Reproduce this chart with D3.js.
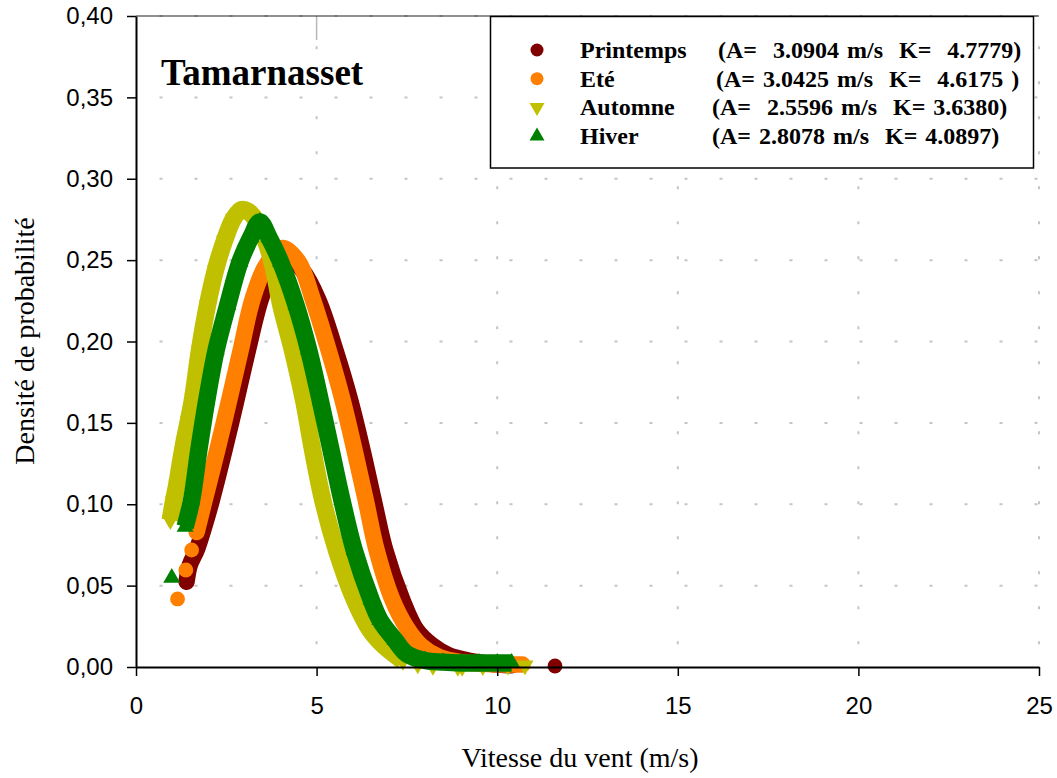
<!DOCTYPE html>
<html>
<head>
<meta charset="utf-8">
<script src="https://cdn.jsdelivr.net/npm/d3@7"></script>
<style>
  body { margin: 0; background: #fff; }
  svg { display: block; }
</style>
</head>
<body>
<svg id="chart" width="1057" height="778"></svg>
<script>
// Axis ticks
const xTicks = [0, 5, 10, 15, 20, 25];
const yTicks = [0, 0.05, 0.10, 0.15, 0.20, 0.25, 0.30, 0.35, 0.40];

// Seasons and their fitted Weibull parameters (legend)
const seasons = ["Printemps", "Eté", "Automne", "Hiver"];
const weibullParams = [
  "(A=  3.0904 m/s  K=  4.7779)",
  "(A= 3.0425 m/s  K=  4.6175 )",
  "(A=  2.5596 m/s  K= 3.6380)",
  "(A= 2.8078 m/s  K= 4.0897)"
];
const colors = ["#800000", "#ff8000", "#c0c000", "#008000"];

// Probability density vs wind speed [v (m/s), f(v)] — dense runs of points
const printemps = [
  [1.40, 0.0524], [1.49, 0.0627], [1.68, 0.0719], [1.90, 0.087], [2.10, 0.1026],
  [2.45, 0.1333], [2.78, 0.164], [3.10, 0.1948], [3.45, 0.2255], [3.80, 0.245],
  [4.20, 0.252], [4.60, 0.244], [5.05, 0.2255], [5.52, 0.1948], [5.93, 0.164],
  [6.27, 0.1333], [6.58, 0.1026], [6.90, 0.0719], [7.38, 0.041], [7.77, 0.0227],
  [8.19, 0.0135], [8.65, 0.0074], [9.20, 0.004], [9.80, 0.002], [10.40, 0.001]
];
const printempsIsolated = [[11.6, 0.0006]];

const ete = [
  [1.68, 0.083], [1.90, 0.1026], [2.25, 0.1333], [2.58, 0.164], [2.90, 0.1948],
  [3.22, 0.2255], [3.58, 0.246], [4.05, 0.2575], [4.50, 0.249], [4.90, 0.2255],
  [5.33, 0.1948], [5.72, 0.164], [6.05, 0.1333], [6.36, 0.1026], [6.66, 0.0719],
  [7.10, 0.0412], [7.50, 0.024], [7.90, 0.013], [8.40, 0.006], [9.00, 0.003],
  [9.60, 0.002], [10.20, 0.0015], [10.70, 0.0015]
];
const eteIsolated = [[1.15, 0.0418], [1.38, 0.0596], [1.54, 0.0719]];

const automne = [
  [0.95, 0.0902], [1.04, 0.102], [1.13, 0.112], [1.22, 0.124], [1.33, 0.138],
  [1.45, 0.151], [1.57, 0.165], [1.76, 0.1948], [1.98, 0.2224], [2.20, 0.244],
  [2.45, 0.262], [2.70, 0.2755], [2.92, 0.281], [3.10, 0.280], [3.35, 0.2735],
  [3.60, 0.261], [3.80, 0.246], [4.01, 0.2224], [4.33, 0.1948], [4.64, 0.164],
  [4.89, 0.1333], [5.17, 0.1026], [5.55, 0.0719], [6.05, 0.0412], [6.48, 0.0227],
  [6.84, 0.0135], [7.17, 0.0074], [7.39, 0.0037]
];
const automneIsolated = [
  [7.80, 0.0015], [8.22, 0.0006], [8.91, 0.0], [9.03, 0.0], [9.60, 0.0005],
  [10.30, 0.0008], [10.77, 0.001]
];

const hiver = [
  [1.36, 0.0861], [1.54, 0.1026], [1.74, 0.1333], [1.96, 0.164], [2.22, 0.1948],
  [2.54, 0.2224], [2.88, 0.249], [3.18, 0.264], [3.43, 0.2735], [3.68, 0.264],
  [4.00, 0.249], [4.43, 0.2224], [4.78, 0.1948], [5.10, 0.164], [5.40, 0.1333],
  [5.70, 0.1026], [6.04, 0.0719], [6.51, 0.0412], [6.75, 0.029], [7.17, 0.0166],
  [7.50, 0.008], [8.00, 0.004], [8.50, 0.003], [9.00, 0.0025], [9.50, 0.0025],
  [10.00, 0.0025], [10.40, 0.0025]
];
const hiverIsolated = [[0.99, 0.0548]];

const seriesRuns = [printemps, ete, automne, hiver];
const seriesIsolated = [printempsIsolated, eteIsolated, automneIsolated, hiverIsolated];
const markerKinds = ["circle", "circle", "down", "up"];

// ---- layout ----
const svg = d3.select("#chart");
const plot = { left: 136, right: 1039, top: 16, bottom: 667 };

const x = d3.scaleLinear().domain([0, 25]).range([plot.left, plot.right]);
const y = d3.scaleLinear().domain([0, 0.40]).range([plot.bottom, plot.top]);

const sans = "'Liberation Sans', Arial, sans-serif";
const serif = "'Liberation Serif', 'Times New Roman', serif";

// dotted grid
const grid = svg.append("g").attr("stroke", "#c4c4c4").attr("stroke-width", 2)
  .attr("stroke-dasharray", "3 32");
grid.selectAll("line.h").data(yTicks.filter(d => d > 0)).join("line")
  .attr("x1", plot.left).attr("x2", plot.right)
  .attr("y1", d => y(d)).attr("y2", d => y(d))
  .attr("stroke-dashoffset", 11.5);
grid.selectAll("line.v").data(xTicks.filter(d => d > 0)).join("line")
  .attr("x1", d => x(d)).attr("x2", d => x(d))
  .attr("y1", plot.bottom).attr("y2", plot.top)
  .attr("stroke-dashoffset", 12.2);

// short solid gridline stub under the top border at x = 5
svg.append("line")
  .attr("x1", x(5)).attr("x2", x(5)).attr("y1", plot.top).attr("y2", plot.top + 24)
  .attr("stroke", "#b8b8b8").attr("stroke-width", 1.5);

// top frame line
svg.append("line")
  .attr("x1", plot.left).attr("x2", plot.right).attr("y1", plot.top).attr("y2", plot.top)
  .attr("stroke", "#222").attr("stroke-width", 1.2);

// ---- series ----
const triWidth = 17;
const triSize = Math.pow(triWidth / (2 * Math.sqrt(3)), 2) * 3 * Math.sqrt(3);
const symUp = d3.symbol().type(d3.symbolTriangle).size(triSize);

function drawMarkers(g, pts, kind, color) {
  if (kind === "circle") {
    g.selectAll(null).data(pts).join("circle")
      .attr("cx", d => x(d[0])).attr("cy", d => y(d[1])).attr("r", 7.4)
      .attr("fill", color);
  } else {
    g.selectAll(null).data(pts).join("path")
      .attr("d", symUp())
      .attr("transform", d => `translate(${x(d[0])},${y(d[1])})` + (kind === "down" ? " rotate(180)" : ""))
      .attr("fill", color);
  }
}

// each dense run of points merges into a thick band
const band = d3.line().x(d => x(d[0])).y(d => y(d[1])).curve(d3.curveCatmullRom.alpha(0.5));

seriesRuns.forEach((run, i) => {
  const g = svg.append("g");
  const kind = markerKinds[i];
  g.append("path").datum(run)
    .attr("d", band)
    .attr("fill", "none")
    .attr("stroke", colors[i])
    .attr("stroke-width", kind === "circle" ? 16.5 : 17.5)
    .attr("stroke-linejoin", "round")
    .attr("stroke-linecap", kind === "circle" ? "round" : "butt");
  drawMarkers(g, run, kind, colors[i]);
  drawMarkers(g, seriesIsolated[i], kind, colors[i]);
});

// ---- axes ----
const fmt = d => d3.format(".2f")(d).replace(".", ",");
const yAxis = svg.append("g").attr("transform", `translate(${plot.left},0)`)
  .call(d3.axisLeft(y).tickValues(yTicks).tickFormat(fmt).tickSize(9).tickSizeOuter(0).tickPadding(14));
const xAxis = svg.append("g").attr("transform", `translate(0,${plot.bottom})`)
  .call(d3.axisBottom(x).tickValues(xTicks).tickFormat(d3.format("d")).tickSize(9).tickSizeOuter(0).tickPadding(21));

[yAxis, xAxis].forEach(a => {
  a.select(".domain").attr("stroke", "#000").attr("stroke-width", 2);
  a.selectAll(".tick line").attr("stroke", "#000").attr("stroke-width", 1.5);
  a.selectAll(".tick text").attr("fill", "#000").style("font-family", sans).style("font-size", "24px");
});

// axis titles
svg.append("text")
  .attr("x", 580).attr("y", 767).attr("text-anchor", "middle")
  .style("font-family", serif).style("font-size", "28px")
  .text("Vitesse du vent (m/s)");
svg.append("text")
  .attr("transform", "translate(34,341) rotate(-90)").attr("text-anchor", "middle")
  .style("font-family", serif).style("font-size", "28px")
  .text("Densité de probabilité");

// station name
svg.append("text")
  .attr("x", 161).attr("y", 85)
  .style("font-family", serif).style("font-size", "37px").style("font-weight", "bold")
  .text("Tamarnasset");

// ---- legend ----
const legend = svg.append("g");
legend.append("rect")
  .attr("x", 490.5).attr("y", 16.5).attr("width", 543).attr("height", 151.5)
  .attr("fill", "#fff").attr("stroke", "#000").attr("stroke-width", 1.5);

const rowY = [50, 78.7, 107.4, 136.1];
const paramX = [718, 716, 712, 712];
seasons.forEach((name, i) => {
  const row = legend.append("g");
  const cx = 537, cy = rowY[i];
  if (markerKinds[i] === "circle") {
    row.append("circle").attr("cx", cx).attr("cy", cy).attr("r", 6.5).attr("fill", colors[i]);
  } else {
    const s = d3.symbol().type(d3.symbolTriangle).size(Math.pow(15 / (2 * Math.sqrt(3)), 2) * 3 * Math.sqrt(3));
    row.append("path").attr("d", s())
      .attr("transform", `translate(${cx},${cy})` + (markerKinds[i] === "down" ? " rotate(180)" : ""))
      .attr("fill", colors[i]);
  }
  row.append("text").attr("x", 580).attr("y", cy + 8)
    .style("font-family", serif).style("font-size", "24px").style("font-weight", "bold")
    .text(name);
  row.append("text").attr("x", paramX[i]).attr("y", cy + 8)
    .attr("xml:space", "preserve").style("white-space", "pre").style("word-spacing", "2px")
    .style("font-family", serif).style("font-size", "24px").style("font-weight", "bold")
    .text(weibullParams[i]);
});
</script>
</body>
</html>
